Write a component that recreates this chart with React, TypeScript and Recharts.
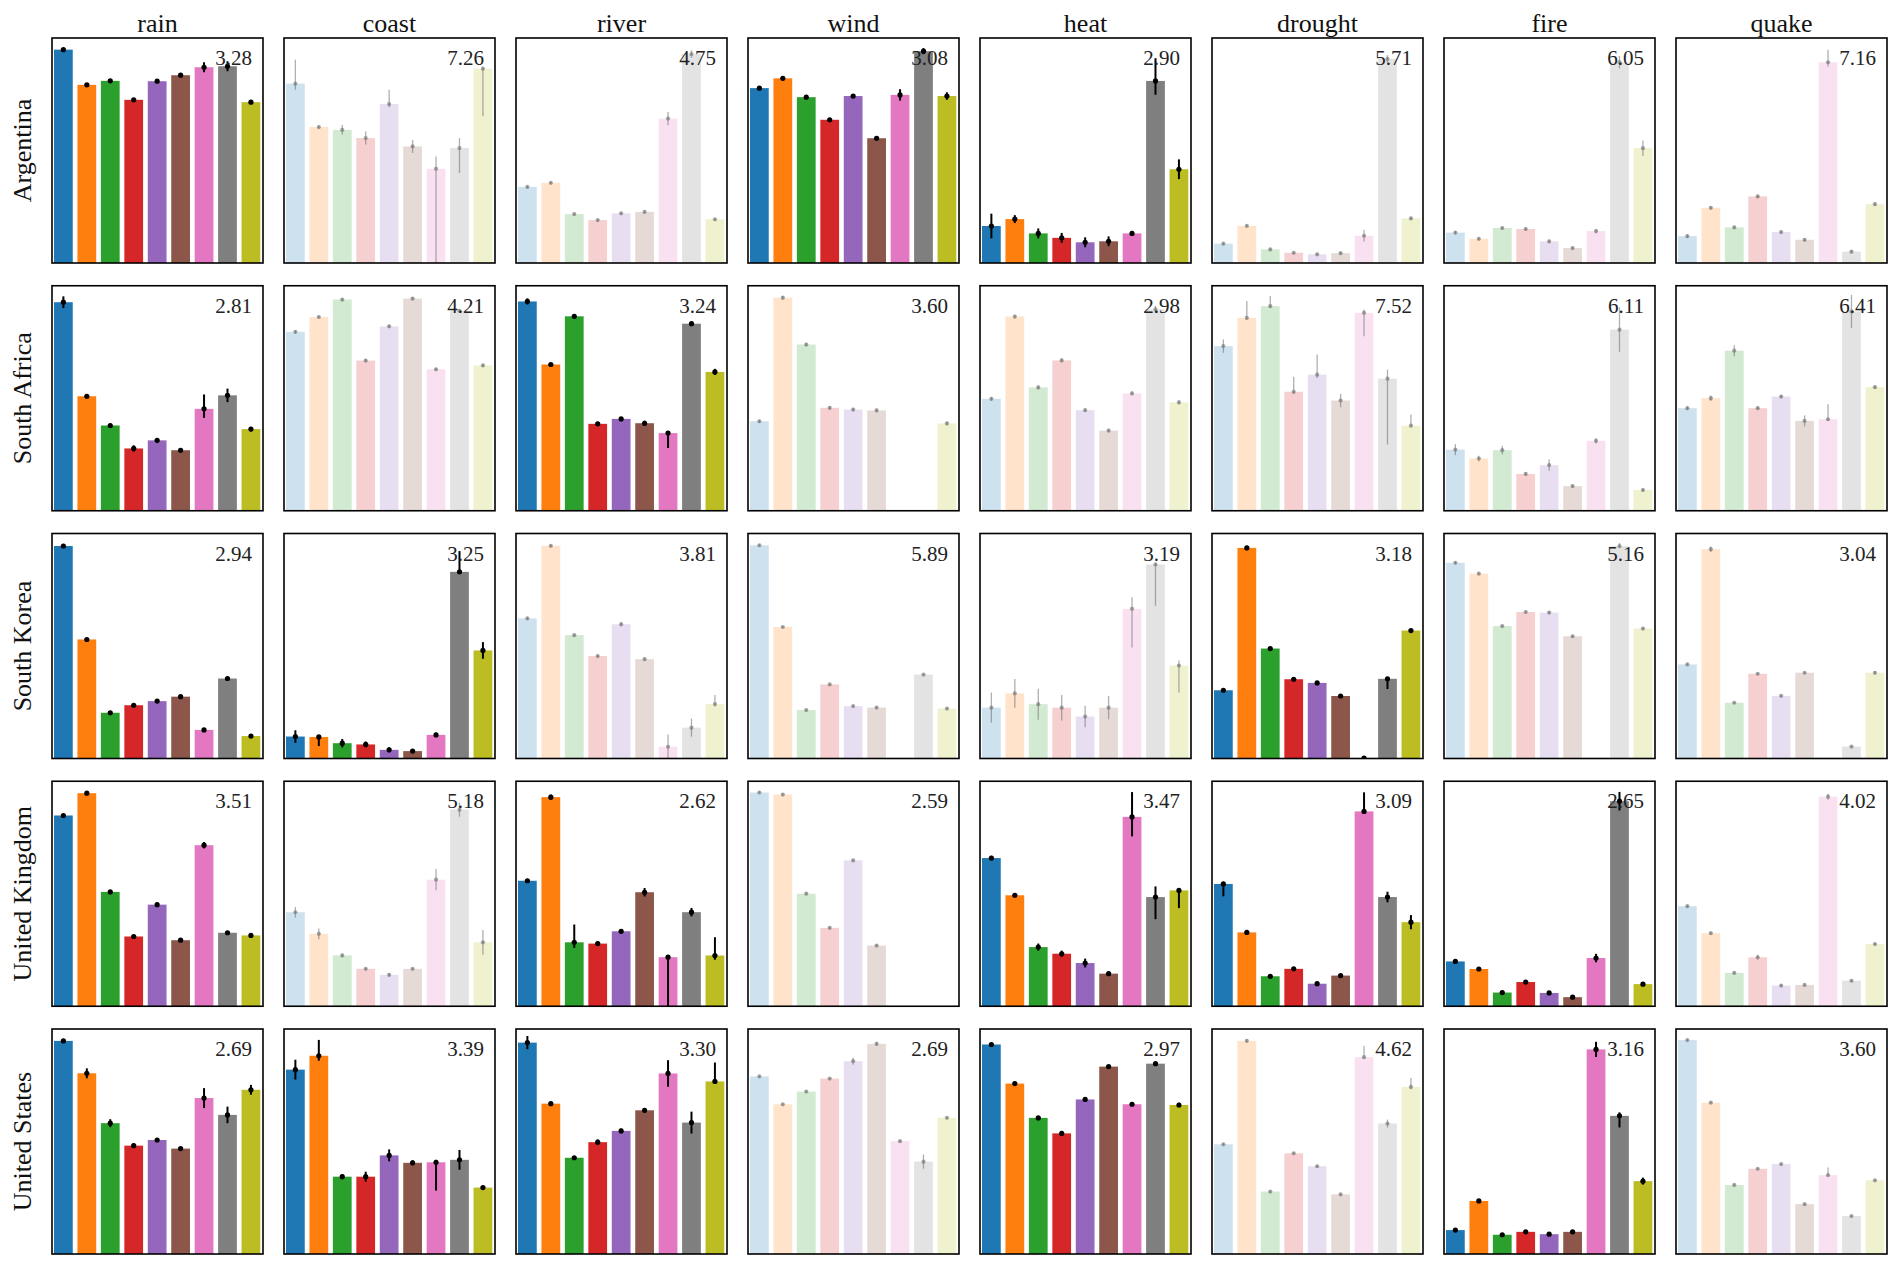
import React from 'react';
import { BarChart, Bar, XAxis, YAxis, ErrorBar } from 'recharts';

const countries = ['Argentina', 'South Africa', 'South Korea', 'United Kingdom', 'United States'];
const hazards = ['rain', 'coast', 'river', 'wind', 'heat', 'drought', 'fire', 'quake'];
const colors = ['#1f77b4', '#ff7f0e', '#2ca02c', '#d62728', '#9467bd', '#8c564b', '#e377c2', '#7f7f7f', '#bcbd22'];
const xTicks = [0, 2.5, 5, 7.5];

const labels = [
  ['3.28', '7.26', '4.75', '3.08', '2.90', '5.71', '6.05', '7.16'],
  ['2.81', '4.21', '3.24', '3.60', '2.98', '7.52', '6.11', '6.41'],
  ['2.94', '3.25', '3.81', '5.89', '3.19', '3.18', '5.16', '3.04'],
  ['3.51', '5.18', '2.62', '2.59', '3.47', '3.09', '2.65', '4.02'],
  ['2.69', '3.39', '3.30', '2.69', '2.97', '4.62', '3.16', '3.60'],
];

const faded = [
  [0, 1, 1, 0, 0, 1, 1, 1],
  [0, 1, 0, 1, 1, 1, 1, 1],
  [0, 0, 1, 1, 1, 0, 1, 1],
  [0, 1, 0, 1, 0, 0, 0, 1],
  [0, 0, 0, 1, 0, 1, 0, 1],
];

const yMax = [
  [6.77, 6.95, 6.03, 5.97, 4.56, 5.95, 4.37, 4.36],
  [5.0, 6.97, 3.64, 5.19, 3.75, 6.7, 4.07, 4.07],
  [6.57, 5.41, 4.96, 6.34, 5.83, 5.5, 3.52, 6.52],
  [4.24, 6.36, 5.3, 5.47, 5.08, 6.36, 5.35, 3.74],
  [6.81, 4.54, 6.78, 6.36, 6.1, 4.0, 3.86, 5.28],
];

const argentinaValues = [
  [6.42, 5.36, 5.48, 4.91, 5.47, 5.65, 5.89, 5.92, 4.84],
  [5.54, 4.2, 4.11, 3.86, 4.91, 3.6, 2.91, 3.55, 6.0],
  [2.04, 2.15, 1.31, 1.15, 1.33, 1.37, 3.87, 5.6, 1.17],
  [4.64, 4.9, 4.4, 3.8, 4.43, 3.31, 4.46, 5.62, 4.43],
  [0.75, 0.89, 0.6, 0.51, 0.42, 0.44, 0.6, 3.69, 1.9],
  [0.51, 0.98, 0.36, 0.27, 0.23, 0.26, 0.72, 5.4, 1.18],
  [0.59, 0.47, 0.68, 0.66, 0.42, 0.29, 0.62, 3.9, 2.23],
  [0.52, 1.07, 0.69, 1.29, 0.6, 0.45, 3.89, 0.22, 1.14],
];
const argentinaErrors = [
  [0.03, 0.05, 0.05, 0.03, 0.03, 0.06, 0.15, 0.15, 0.03],
  [[0.19, 0.74], 0.05, 0.15, 0.2, [0.1, 0.44], 0.2, [2.91, 0.38], [0.77, 0.31], [1.47, 0.07]],
  [0.03, 0.03, 0.04, 0.03, 0.04, 0.04, 0.18, 0.1, 0.03],
  [0.04, 0.04, 0.05, 0.04, 0.03, 0.03, 0.15, 0.08, 0.1],
  [0.25, 0.08, 0.1, 0.1, 0.1, 0.1, 0.05, [0.28, 0.46], 0.2],
  [0.03, 0.03, 0.03, 0.03, 0.03, 0.03, 0.15, 0.1, 0.04],
  [0.03, 0.03, 0.03, 0.03, 0.03, 0.03, 0.04, 0.12, 0.15],
  [0.03, 0.03, 0.03, 0.03, 0.03, 0.03, [0.08, 0.24], 0.03, 0.03],
];

const southAfricaValues = [
  [4.64, 2.55, 1.9, 1.39, 1.57, 1.35, 2.27, 2.57, 1.82],
  [5.55, 6.01, 6.55, 4.66, 5.72, 6.58, 4.39, 6.2, 4.51],
  [3.39, 2.37, 3.15, 1.41, 1.49, 1.42, 1.26, 3.03, 2.25],
  [2.07, 4.92, 3.84, 2.38, 2.34, 2.32, null, null, 2.02],
  [1.87, 3.24, 2.06, 2.51, 1.68, 1.34, 1.96, 3.36, 1.81],
  [4.91, 5.75, 6.1, 3.55, 4.06, 3.29, 5.9, 3.94, 2.54],
  [1.11, 0.95, 1.1, 0.67, 0.83, 0.45, 1.27, 3.28, 0.38],
  [1.86, 2.04, 2.9, 1.86, 2.07, 1.63, 1.66, 3.61, 2.24],
];
const southAfricaErrors = [
  [0.13, 0.04, 0.04, 0.07, 0.05, 0.03, [0.2, 0.32], 0.15, 0.05],
  [0.05, 0.05, 0.05, 0.05, 0.05, 0.05, 0.05, 0.05, 0.05],
  [0.05, 0.02, 0.03, 0.03, 0.03, 0.04, [0.24, 0.03], 0.03, 0.05],
  [0.04, 0.04, 0.04, 0.04, 0.04, 0.04, 0, 0, 0.04],
  [0.03, 0.03, 0.03, 0.03, 0.03, 0.03, 0.03, 0.06, 0.03],
  [0.2, [0.05, 0.5], [0.05, 0.3], [0.05, 0.45], [0.1, 0.6], 0.2, [0.7, 0.1], [1.96, 0.27], [0.03, 0.33]],
  [0.1, 0.05, 0.08, 0.03, 0.1, 0.03, 0.05, 0.4, 0.03],
  [0.03, 0.05, 0.1, 0.03, 0.03, 0.1, [0.03, 0.27], 0.3, 0.03],
];

const southKoreaValues = [
  [6.22, 3.49, 1.35, 1.57, 1.69, 1.82, 0.85, 2.35, 0.67],
  [0.54, 0.53, 0.38, 0.35, 0.22, 0.19, 0.58, 4.5, 2.61],
  [3.1, 4.7, 2.73, 2.27, 2.97, 2.2, 0.27, 0.69, 1.21],
  [6.02, 3.72, 1.38, 2.1, 1.49, 1.45, null, 2.38, 1.42],
  [1.33, 1.7, 1.42, 1.33, 1.1, 1.33, 3.89, 5.04, 2.42],
  [1.68, 5.16, 2.7, 1.95, 1.86, 1.54, 0.02, 1.96, 3.14],
  [3.07, 2.9, 2.08, 2.3, 2.29, 1.92, null, 3.33, 2.04],
  [2.74, 6.08, 1.63, 2.47, 1.83, 2.5, null, 0.36, 2.5],
];
const southKoreaErrors = [
  [0.06, 0.03, 0.04, 0.03, 0.03, 0.03, 0.04, 0.04, 0.03],
  [0.15, [0.22, 0.03], 0.1, 0.07, 0.06, 0.04, 0.05, [0.05, 0.5], 0.2],
  [0.03, 0.03, 0.03, 0.03, 0.05, 0.03, 0.27, 0.2, [0.05, 0.2]],
  [0.03, 0.03, 0.03, 0.03, 0.03, 0.03, 0, 0.03, 0.03],
  [0.39, 0.37, 0.4, 0.33, 0.28, 0.3, [1.0, 0.3], [1.07, 0.05], [0.7, 0.13]],
  [0.03, 0.05, 0.03, 0.03, 0.03, 0.04, 0.01, [0.25, 0.03], 0.03],
  [0.02, 0.02, 0.02, 0.02, 0.02, 0.02, 0, [0.02, 0.05], 0.02],
  [0.03, 0.08, 0.03, 0.03, 0.03, 0.03, 0, 0.03, 0.05],
];

const unitedKingdomValues = [
  [3.59, 4.01, 2.15, 1.31, 1.91, 1.24, 3.03, 1.38, 1.33],
  [2.65, 2.04, 1.43, 1.05, 0.88, 1.05, 3.57, 5.55, 1.8],
  [2.95, 4.92, 1.5, 1.47, 1.76, 2.68, 1.15, 2.21, 1.19],
  [5.19, 5.14, 2.73, 1.9, 3.54, 1.47, null, null, null],
  [3.34, 2.5, 1.33, 1.18, 0.97, 0.73, 4.27, 2.46, 2.61],
  [3.45, 2.08, 0.84, 1.05, 0.63, 0.86, 5.5, 3.08, 2.37],
  [1.06, 0.88, 0.32, 0.57, 0.31, 0.21, 1.14, 4.87, 0.52],
  [1.66, 1.21, 0.55, 0.81, 0.34, 0.35, 3.48, 0.42, 1.03],
];
const unitedKingdomErrors = [
  [0.03, 0.03, 0.02, 0.02, 0.02, 0.02, 0.06, 0.03, 0.03],
  [0.15, 0.15, 0.05, 0.03, 0.05, 0.03, 0.3, 0.2, 0.35],
  [0.02, 0.06, [0.13, 0.42], 0.05, 0.03, 0.1, [1.15, 0.02], 0.1, [0.1, 0.43]],
  [0.03, 0.03, 0.03, 0.03, 0.03, 0.03, 0, 0, 0],
  [0.05, 0.04, 0.08, 0.07, 0.1, 0.04, [0.44, 0.56], [0.5, 0.24], [0.4, 0.03]],
  [[0.35, 0.03], 0.07, 0.03, 0.04, 0.03, 0.03, [0.03, 0.54], 0.15, 0.2],
  [0.03, 0.02, 0.02, 0.02, 0.02, 0.02, 0.1, 0.22, 0.02],
  [0.02, 0.02, 0.02, 0.04, 0.02, 0.02, 0.05, 0.02, 0.02],
];

const unitedStatesValues = [
  [6.45, 5.47, 3.96, 3.28, 3.45, 3.19, 4.72, 4.21, 4.97],
  [3.72, 4.0, 1.56, 1.56, 1.99, 1.84, 1.85, 1.9, 1.34],
  [6.37, 4.53, 2.9, 3.37, 3.71, 4.33, 5.44, 3.96, 5.2],
  [5.02, 4.23, 4.59, 4.96, 5.45, 5.94, 3.19, 2.61, 3.85],
  [5.68, 4.62, 3.69, 3.27, 4.19, 5.08, 4.06, 5.16, 4.04],
  [1.95, 3.79, 1.11, 1.79, 1.56, 1.06, 3.5, 2.32, 2.97],
  [0.41, 0.91, 0.33, 0.38, 0.34, 0.38, 3.51, 2.37, 1.25],
  [5.02, 3.55, 1.62, 2.0, 2.11, 1.17, 1.85, 0.89, 1.73],
];
const unitedStatesErrors = [
  [0.03, 0.15, 0.12, 0.07, 0.02, 0.02, 0.3, 0.25, 0.15],
  [0.2, [0.1, 0.32], 0.05, 0.1, 0.12, 0.05, [0.57, 0.05], 0.2, 0.02],
  [0.2, 0.03, 0.05, 0.08, 0.07, 0.07, 0.4, 0.33, [0.05, 0.57]],
  [0.03, 0.03, 0.03, 0.03, 0.1, 0.06, 0.03, 0.2, 0.03],
  [0.05, 0.02, 0.02, 0.04, 0.02, 0.02, 0.04, 0.02, 0.06],
  [0.02, 0.03, 0.02, 0.02, 0.02, 0.02, [0.03, 0.2], 0.07, [0.04, 0.16]],
  [0.02, 0.02, 0.02, 0.02, 0.02, 0.02, 0.13, [0.2, 0.06], 0.06],
  [0.02, 0.02, 0.02, 0.02, 0.02, 0.02, [0.02, 0.18], 0.02, 0.02],
];

const allValues = [argentinaValues, southAfricaValues, southKoreaValues, unitedKingdomValues, unitedStatesValues];
const allErrors = [argentinaErrors, southAfricaErrors, southKoreaErrors, unitedKingdomErrors, unitedStatesErrors];

// layout
const PW = 211;
const PH = 225;
const COL0 = 52;
const COLSTEP = 232;
const ROW0 = 38;
const ROWSTEP = 247.75;
const ML = 10;
const MR = 4;
const MT = 4;
const MB = 10;
const FONT = '"Liberation Serif", "Times New Roman", serif';

const BarShape = (props: any) => {
  const { x, y, width, height, payload, isFaded } = props;
  if (payload == null || payload.v == null || width == null) return <g />;
  const c = colors[payload.x % colors.length];
  return (
    <g>
      <rect x={x} y={y} width={width} height={Math.max(0, height)} fill={c} fillOpacity={isFaded ? 0.22 : 1} />
      <circle
        cx={x + width / 2}
        cy={y}
        r={isFaded ? 2.1 : 2.6}
        fill={isFaded ? '#6e6e6e' : '#000'}
        fillOpacity={isFaded ? 0.6 : 1}
      />
    </g>
  );
};

function Panel({ r, c }: { r: number; c: number }) {
  const values = allValues[r][c];
  const errors = allErrors[r][c];
  const top = yMax[r][c];
  const isFaded = faded[r][c] === 1;
  const data = values.map((v: any, i: number) => ({ x: i, v, err: v == null ? 0 : errors[i] }));
  const yTicks: number[] = [];
  for (let k = 0; k <= top + 1e-6; k++) yTicks.push(k);
  const left = COL0 + COLSTEP * c;
  const topPx = ROW0 + ROWSTEP * r;
  const tl = { stroke: '#000', strokeWidth: 1.3 };
  return (
    <div style={{ position: 'absolute', left: left - ML, top: topPx - MT }}>
      <BarChart
        width={PW + ML + MR}
        height={PH + MT + MB}
        data={data}
        margin={{ top: MT, right: MR, bottom: MB, left: ML }}
      >
        <XAxis
          type="number"
          dataKey="x"
          domain={[-0.5, 8.5]}
          ticks={xTicks}
          tick={false}
          tickSize={6}
          tickLine={tl}
          axisLine={false}
          height={0}
          interval={0}
          allowDataOverflow
        />
        <YAxis
          type="number"
          domain={[0, top]}
          ticks={yTicks}
          tick={false}
          tickSize={6}
          tickLine={tl}
          axisLine={false}
          width={0}
          interval={0}
          allowDataOverflow
        />
        <Bar
          dataKey="v"
          barSize={18.75}
          isAnimationActive={false}
          shape={(p: any) => <BarShape {...p} isFaded={isFaded} />}
        >
          <ErrorBar
            dataKey="err"
            width={0}
            direction="y"
            stroke={isFaded ? '#6e6e6e' : '#000'}
            strokeOpacity={isFaded ? 0.55 : 1}
            strokeWidth={isFaded ? 1.3 : 2}
            isAnimationActive={false}
          />
        </Bar>
      </BarChart>
    </div>
  );
}

export default function App() {
  const panels: any[] = [];
  for (let r = 0; r < countries.length; r++) {
    for (let c = 0; c < hazards.length; c++) {
      panels.push(<Panel key={`${r}-${c}`} r={r} c={c} />);
    }
  }
  return (
    <div style={{ position: 'absolute', left: 0, top: 0, width: 1902, height: 1274, background: '#fff', overflow: 'hidden' }}>
      {panels}
      <svg width={1902} height={1274} style={{ position: 'absolute', left: 0, top: 0, pointerEvents: 'none' }}>
        {hazards.map((h, c) => (
          <text key={h} x={COL0 + COLSTEP * c + PW / 2} y={32} textAnchor="middle" fontFamily={FONT} fontSize={26} fill="#111">
            {h}
          </text>
        ))}
        {countries.map((name, r) => {
          const cy = ROW0 + ROWSTEP * r + PH / 2;
          return (
            <text key={name} x={31} y={cy} transform={`rotate(-90 31 ${cy})`} textAnchor="middle" fontFamily={FONT} fontSize={26} fill="#111">
              {name}
            </text>
          );
        })}
        {countries.map((name, r) =>
          hazards.map((h, c) => {
            const left = COL0 + COLSTEP * c;
            const topPx = ROW0 + ROWSTEP * r;
            return (
              <g key={`${name}-${h}`}>
                <rect x={left} y={topPx} width={PW} height={PH} fill="none" stroke="#000" strokeWidth={1.6} />
                <text x={left + 200} y={topPx + 27} textAnchor="end" fontFamily={FONT} fontSize={21} fill="#222">
                  {labels[r][c]}
                </text>
              </g>
            );
          })
        )}
      </svg>
    </div>
  );
}
